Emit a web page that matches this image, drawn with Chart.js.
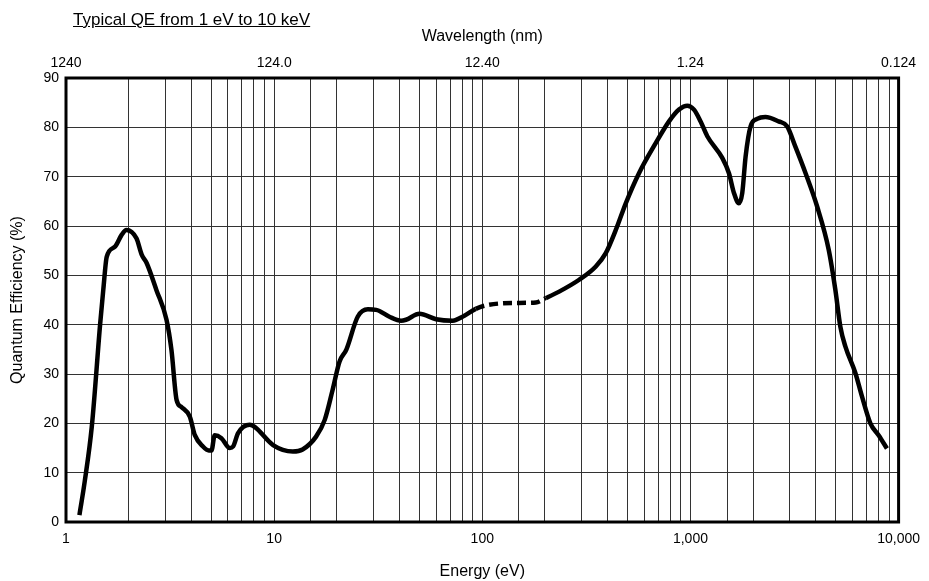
<!DOCTYPE html>
<html>
<head>
<meta charset="utf-8">
<title>Typical QE</title>
<script src="https://cdn.jsdelivr.net/npm/chart.js@4"></script>
<style>
  body { margin: 0; background: #fff; }
  #wrap { position: relative; width: 929px; height: 581px; }
  #title {
    position: absolute; left: 73px; top: 10px;
    font: 17px "Liberation Sans", Arial, sans-serif;
    text-decoration: underline; color: #000;
  }
</style>
</head>
<body>
<div id="wrap">
  <div id="title">Typical QE from 1 eV to 10 keV</div>
  <canvas id="qeChart" width="929" height="581"></canvas>
</div>
<script>
// energy in eV and quantum efficiency in %
const energy = [
  1.16, 1.23, 1.33, 1.46, 1.51, 1.57, 1.72, 1.85, 1.95, 2.18,
  2.31, 2.44, 2.72, 3.04, 3.21, 3.40, 3.59, 3.93, 4.16, 4.55,
  4.85, 5.0, 5.18, 5.58, 6.12, 6.35, 6.71, 7.63, 8.06, 9.88,
  12.3, 13.7, 15.9, 17.5, 19.1, 20.6, 22.2, 25.2, 28.2, 30.9,
  35.8, 40.7, 43, 49.9, 60, 72, 82, 93, 104, 140,
  181, 202, 234, 292, 351, 392, 438, 489, 566, 681,
  789, 881, 966, 1040, 1119, 1205, 1422, 1531, 1618, 1710,
  1774, 1841, 1945, 2090, 2291, 2656, 2912, 3192, 3574, 4058,
  4616, 4967, 5250, 5548, 6199, 6674, 7318, 8017, 8790
];
const qe = [
  1.4, 8.2, 19.3, 40.3, 47, 53.8, 55.8, 58.2, 59.2, 57.5,
  54.2, 52.5, 47, 41, 34.9, 24.7, 23.3, 21.4, 17.6, 15.3,
  14.5, 14.5, 17.6, 17.0, 15.0, 15.3, 18.0, 19.7, 19.3, 15.6,
  14.3, 14.7, 17.3, 20.7, 26.8, 32.5, 34.9, 41.6, 43.1, 43.0,
  41.6, 40.8, 41, 42.2, 41.1, 40.8, 41.8, 43.2, 43.9, 44.4,
  44.5, 45.4, 46.7, 49.1, 51.8, 54.5, 59.2, 64.6, 70.7, 76.8,
  81.2, 83.6, 84.4, 83.6, 81.2, 78.2, 73.8, 70.7, 66.7, 64.6,
  66.7, 74.1, 80.2, 81.7, 82.1, 81.2, 80.2, 76.1, 70.7, 64.0,
  55.2, 47.1, 39.6, 35.6, 30.2, 25.4, 20.0, 17.6, 14.9
];

// the uncertain stretch drawn dashed
const dashedFrom = 92;
const dashedTo = 203;

// axis labels
const energyDecades = [1, 10, 100, 1000, 10000];
const energyLabels = ["1", "10", "100", "1,000", "10,000"];
const wavelengthLabels = ["1240", "124.0", "12.40", "1.24", "0.124"];

const points = energy.map((e, i) => ({ x: e, y: qe[i] }));

function decadeLabel(value, labels) {
  const i = energyDecades.indexOf(value);
  return i === -1 ? "" : labels[i];
}

const font = "'Liberation Sans', Arial, sans-serif";

// heavy frame round the plot area
const frame = {
  id: "frame",
  afterDraw(chart) {
    const a = chart.chartArea;
    const ctx = chart.ctx;
    ctx.save();
    ctx.strokeStyle = "#000";
    ctx.lineWidth = 3;
    ctx.strokeRect(a.left, a.top, a.right - a.left, a.bottom - a.top);
    ctx.restore();
  }
};

const ctx = document.getElementById("qeChart").getContext("2d");
const chart = new Chart(ctx, {
  type: "line",
  data: {
    datasets: [{
      data: points,
      borderColor: "#000",
      borderWidth: 4.5,
      pointRadius: 0,
      fill: false,
      cubicInterpolationMode: "monotone",
      borderJoinStyle: "round",
      segment: {
        borderDash: c => (c.p0.parsed.x >= dashedFrom && c.p1.parsed.x <= dashedTo) ? [9, 5] : undefined
      }
    }]
  },
  options: {
    responsive: false,
    animation: false,
    layout: { padding: { left: 0, right: 29, top: 24, bottom: 0 } },
    plugins: {
      legend: { display: false },
      tooltip: { enabled: false }
    },
    scales: {
      x: {
        type: "logarithmic",
        position: "bottom",
        min: 1,
        max: 10000,
        afterFit: s => { s.height = 59; },
        border: { display: false },
        grid: { color: "#333", lineWidth: 1, drawTicks: false },
        ticks: {
          autoSkip: false,
          maxRotation: 0,
          padding: 9,
          color: "#000",
          font: { family: font, size: 14 },
          callback: v => decadeLabel(v, energyLabels)
        },
        title: {
          display: true,
          text: "Energy (eV)",
          color: "#000",
          font: { family: font, size: 16 },
          padding: { top: 0, bottom: 0 }
        }
      },
      x2: {
        type: "logarithmic",
        position: "top",
        min: 1,
        max: 10000,
        afterFit: s => { s.height = 54; },
        border: { display: false },
        grid: { display: false, drawTicks: false },
        ticks: {
          autoSkip: false,
          maxRotation: 0,
          padding: 6,
          color: "#000",
          font: { family: font, size: 14 },
          callback: v => decadeLabel(v, wavelengthLabels)
        },
        title: {
          display: true,
          text: "Wavelength (nm)",
          color: "#000",
          font: { family: font, size: 16 },
          padding: { top: 3, bottom: 0 }
        }
      },
      y: {
        min: 0,
        max: 90,
        afterFit: s => { s.width = 66; },
        border: { display: false },
        grid: { color: "#333", lineWidth: 1, drawTicks: false },
        ticks: {
          stepSize: 10,
          padding: 7,
          color: "#000",
          font: { family: font, size: 14 }
        },
        title: {
          display: true,
          text: "Quantum Efficiency (%)",
          color: "#000",
          font: { family: font, size: 16 },
          padding: { top: 8, bottom: 0 }
        }
      }
    }
  },
  plugins: [frame]
});
</script>
</body>
</html>
